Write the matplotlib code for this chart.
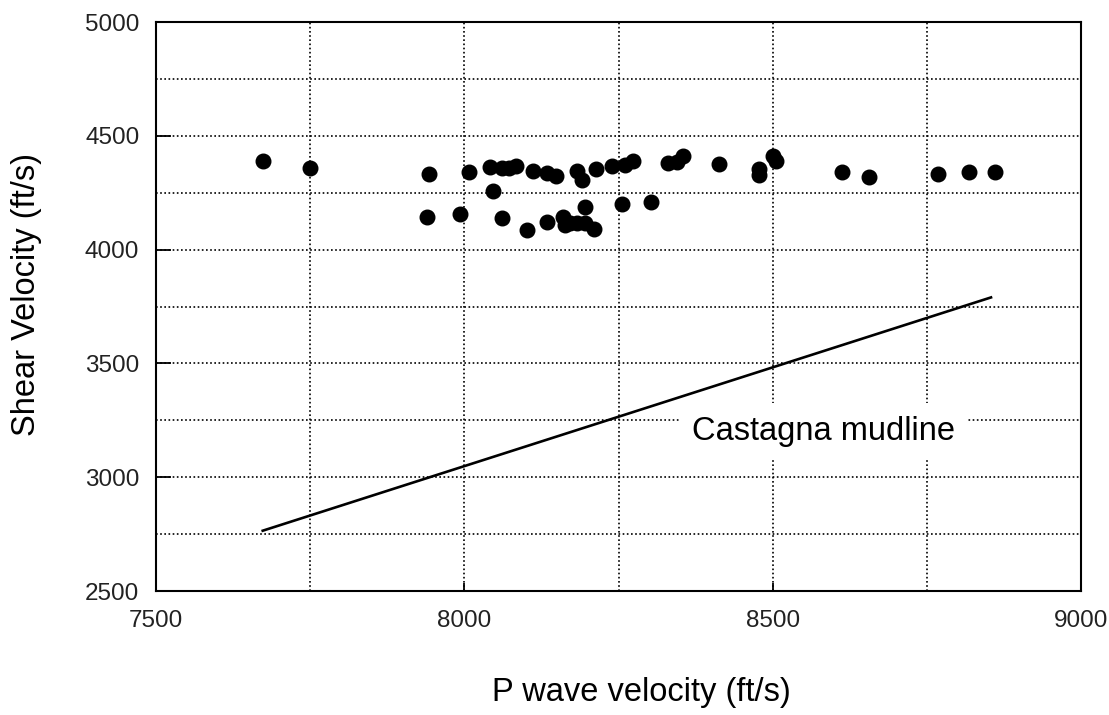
import numpy as np
import matplotlib.pyplot as plt
from matplotlib.ticker import MultipleLocator

plt.rcParams['font.family'] = ['Liberation Sans', 'DejaVu Sans']

# measured P and S velocities (ft/s)
vp = [7673, 7749, 7943, 7939, 7993, 8007, 8041, 8046,
      8061, 8072, 8083, 8111, 8134, 8149, 8182, 8190, 8214, 8239, 8261, 8274,
      8330, 8345, 8355, 8413, 8478, 8478, 8500, 8506, 8612, 8656, 8768, 8818, 8861,
      8061, 8102, 8134, 8160, 8163, 8172, 8182, 8196, 8195, 8211, 8256, 8302]
vs = [4389, 4359, 4333, 4144, 4157, 4340, 4361, 4257,
      4359, 4360, 4366, 4344, 4337, 4322, 4345, 4305, 4356, 4366, 4371, 4388,
      4380, 4385, 4410, 4374, 4355, 4330, 4410, 4388, 4341, 4319, 4334, 4341, 4341,
      4137, 4086, 4123, 4145, 4108, 4118, 4115, 4189, 4115, 4090, 4201, 4208]

# Castagna mudline end points
mud_vp = [7673, 8854]
mud_vs = [2765, 3790]

fig = plt.figure(figsize=(11.09, 7.15), dpi=100)
ax = fig.add_axes([0.1407, 0.1734, 0.8341, 0.7958])

ax.plot(mud_vp, mud_vs, color='black', lw=1.9, zorder=3)
ax.scatter(vp, vs, s=110, color='black', zorder=4)

ax.set_xlim(7500, 9000)
ax.set_ylim(2500, 5000)
ax.xaxis.set_major_locator(MultipleLocator(500))
ax.yaxis.set_major_locator(MultipleLocator(500))
ax.xaxis.set_minor_locator(MultipleLocator(250))
ax.yaxis.set_minor_locator(MultipleLocator(250))
ax.grid(True, which='both', color='black', linestyle=(0, (1, 1.5)), linewidth=1.2)
ax.set_axisbelow(True)

ax.tick_params(axis='x', which='major', direction='in', length=6, width=1.3,
               pad=14, labelsize=17.5, labelcolor='#222222')
ax.tick_params(axis='y', which='major', direction='in', length=11, width=1.3,
               pad=12, labelsize=17.5, labelcolor='#222222')
ax.tick_params(which='minor', length=0)
for sp in ax.spines.values():
    sp.set_linewidth(1.5)

ax.set_xlabel('P wave velocity (ft/s)', fontsize=23.5, va='center')
ax.xaxis.set_label_coords(0.525, -0.1775)
ax.set_ylabel('Shear Velocity (ft/s)', fontsize=23.5, va='center')
ax.yaxis.set_label_coords(-0.1405, 0.522)

ax.text(8583, 3200, 'Castagna mudline', fontsize=23.5, ha='center', va='center',
        zorder=5, bbox=dict(boxstyle='square,pad=0.4', facecolor='white',
                            edgecolor='none'))

fig.savefig('out.png', dpi=100)
